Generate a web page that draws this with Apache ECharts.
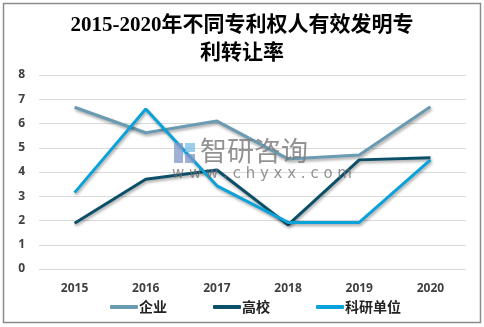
<!DOCTYPE html>
<html><head><meta charset="utf-8">
<script src="https://cdn.jsdelivr.net/npm/echarts@6/dist/echarts.min.js"></script>
<style>html,body{margin:0;padding:0;background:#fff}#c{width:484px;height:327px}</style>
</head><body><div id="c"></div>
<script>
const categories = ['2015','2016','2017','2018','2019','2020'];
const enterprise = [6.67, 5.62, 6.1, 4.54, 4.7, 6.69];
const university = [1.89, 3.7, 4.08, 1.82, 4.5, 4.59];
const institute = [3.15, 6.6, 3.43, 1.92, 1.92, 4.5];
const yTicks = [0, 8, 1];
const seriesNames = ['企业', '高校', '科研单位'];
const colors = ['#6a9bb2', '#0b4f68', '#0aa2d8'];

const chart = echarts.init(document.getElementById('c'));
const mk = (name, data, color) => ({
  name, type: 'line', data, symbol: 'none', smooth: false,
  lineStyle: { width: 3, color, shadowColor: 'rgba(0,0,0,0.35)', shadowBlur: 3, shadowOffsetX: 1, shadowOffsetY: 2 },
  itemStyle: { color }
});
chart.setOption({
  animation: false,
  title: {
    text: '2015-2020年不同专利权人有效发明专\n利转让率',
    left: 'center', top: 7,
    textStyle: { fontFamily: '"Liberation Serif", "Noto Sans CJK SC", serif', fontSize: 21, fontWeight: 'bold', color: '#000', lineHeight: 28 }
  },
  graphic: [
    { type: 'rect', shape: { x: 3.5, y: 3.5, width: 477, height: 319 }, style: { fill: 'none', stroke: '#8c8c8c', lineWidth: 1.5 }, z: 100 },
    { type: 'text', left: 200, top: 137, style: { text: '智研咨询', fill: 'rgba(120,120,120,0.8)', font: '27px "Noto Sans CJK SC"' }, z: 50 },
    { type: 'text', left: 172, top: 167, style: { text: 'w w w . c h y x x . c o m', fill: 'rgba(110,110,110,0.75)', font: '15px "DejaVu Sans"' }, z: 50 },
    { type: 'rect', shape: { x: 174, y: 143, width: 9, height: 20 }, style: { fill: 'rgba(130,150,200,0.75)' }, z: 50 },
    { type: 'rect', shape: { x: 185, y: 143, width: 10, height: 9 }, style: { fill: 'rgba(120,190,230,0.75)' }, z: 50 },
    { type: 'rect', shape: { x: 185, y: 154, width: 10, height: 9 }, style: { fill: 'rgba(130,150,200,0.75)' }, z: 50 }
  ],
  grid: { left: 39, right: 18, top: 75, bottom: 58 },
  legend: {
    bottom: 8, left: 105, itemGap: 46, itemWidth: 28, itemHeight: 4,
    icon: 'roundRect',
    textStyle: { fontFamily: '"Noto Sans CJK SC"', fontSize: 14, fontWeight: 'bold', color: '#222', padding: [0, 0, 0, -4] },
    data: seriesNames
  },
  xAxis: {
    type: 'category', data: categories, boundaryGap: true,
    axisLine: { show: false }, axisTick: { show: false },
    axisLabel: { margin: 14, fontFamily: '"Open Sans", sans-serif', fontWeight: 'bold', fontSize: 12, color: '#404040' }
  },
  yAxis: {
    type: 'value', min: yTicks[0], max: yTicks[1], interval: yTicks[2],
    axisLine: { show: false }, axisTick: { show: false },
    axisLabel: { margin: 14, fontFamily: '"Open Sans", sans-serif', fontWeight: 'bold', fontSize: 12, color: '#404040' },
    splitLine: { lineStyle: { color: '#d9d9d9', width: 1 } }
  },
  series: [
    mk(seriesNames[0], enterprise, colors[0]),
    mk(seriesNames[1], university, colors[1]),
    mk(seriesNames[2], institute, colors[2])
  ]
});
</script></body></html>
